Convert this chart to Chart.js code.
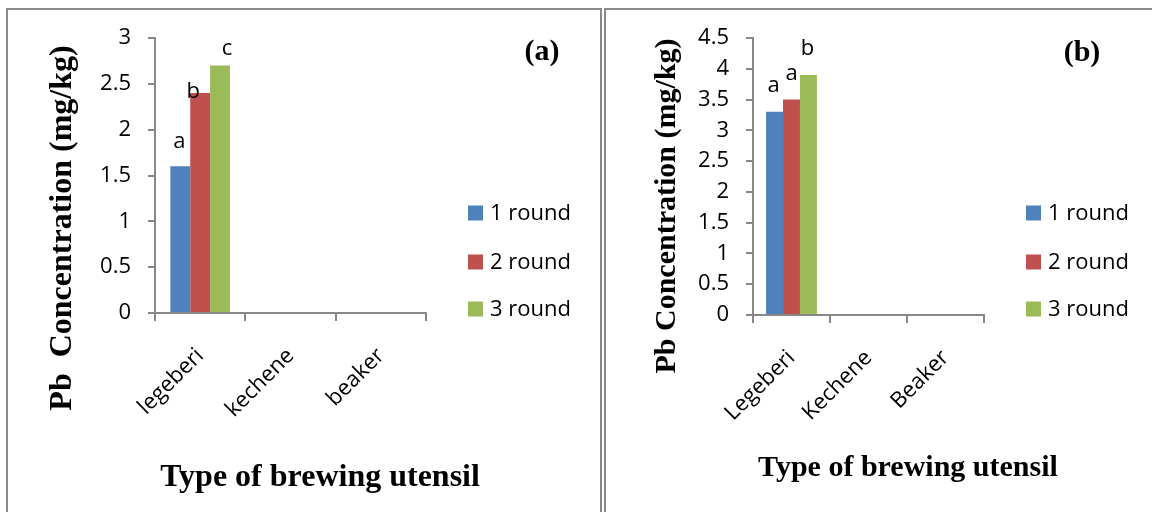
<!DOCTYPE html>
<html>
<head>
<meta charset="utf-8">
<script src="https://cdn.jsdelivr.net/npm/chart.js@4"></script>
<style>
  body { margin: 0; background: #fff; width: 1152px; height: 512px; overflow: hidden; position: relative; }
  .panel { position: absolute; box-sizing: border-box; border: 2px solid #8a8a8a; }
  canvas { position: absolute; top: 0; }
</style>
</head>
<body>
<div class="panel" style="left:6px; top:8px; width:596px; height:530px;"></div>
<div class="panel" style="left:604px; top:8px; width:580px; height:530px;"></div>
<canvas id="graficoA" width="600" height="512" style="left:0px"></canvas>
<canvas id="graficoB" width="549" height="512" style="left:603px"></canvas>
<script>
// dados
const rodadas = ["1 round", "2 round", "3 round"];
const cores = ["#4F81BD", "#C0504D", "#9BBB59"];

// painel (a)
const utensiliosA = ["legeberi", "kechene", "beaker"];
const rodada1A = [1.6, null, null];
const rodada2A = [2.4, null, null];
const rodada3A = [2.7, null, null];
const letrasA = [["a", "", ""], ["b", "", ""], ["c", "", ""]];
const ticksA = { min: 0, max: 3, step: 0.5 };

// painel (b)
const utensiliosB = ["Legeberi", "Kechene", "Beaker"];
const rodada1B = [3.3, null, null];
const rodada2B = [3.5, null, null];
const rodada3B = [3.9, null, null];
const letrasB = [["a", "", ""], ["a", "", ""], ["b", "", ""]];
const ticksB = { min: 0, max: 4.5, step: 0.5 };

Chart.defaults.font.family = "'Open Sans', sans-serif";
Chart.defaults.font.size = 22;
Chart.defaults.color = "#000";

// plugin que desenha letras, legenda e titulos
const enfeites = {
  id: "enfeites",
  afterDraw(chart, args, opts) {
    const ctx = chart.ctx;
    ctx.save();
    ctx.fillStyle = "#000";
    // letras em cima das barras (dx/gap = onde a letra fica)
    ctx.font = "22px 'Open Sans', sans-serif";
    ctx.textAlign = "center";
    ctx.textBaseline = "alphabetic";
    chart.data.datasets.forEach((ds, i) => {
      chart.getDatasetMeta(i).data.forEach((bar, j) => {
        const txt = opts.letras[i][j];
        if (txt) ctx.fillText(txt, bar.x + opts.dx[i], bar.y - opts.gap[i]);
      });
    });
    // legenda
    ctx.textAlign = "left";
    ctx.textBaseline = "middle";
    chart.data.datasets.forEach((ds, i) => {
      const y = opts.legenda.y[i];
      ctx.fillStyle = ds.backgroundColor;
      ctx.fillRect(opts.legenda.x, y - 7.5, 15, 15);
      ctx.fillStyle = "#000";
      ctx.fillText(ds.label, opts.legenda.x + 22, y + 1);
    });
    // titulo do eixo y
    ctx.textAlign = "center";
    ctx.textBaseline = "middle";
    ctx.font = "bold " + opts.tituloY.tam + "px 'Liberation Serif', serif";
    ctx.save();
    ctx.translate(opts.tituloY.x, opts.tituloY.y);
    ctx.rotate(-Math.PI / 2);
    ctx.fillText(opts.tituloY.texto, 0, 0);
    ctx.restore();
    // titulo do eixo x
    ctx.font = "bold " + opts.tituloX.tam + "px 'Liberation Serif', serif";
    ctx.fillText(opts.tituloX.texto, opts.tituloX.x, opts.tituloX.y);
    // etiqueta do painel
    ctx.font = "bold 30px 'Liberation Serif', serif";
    ctx.fillText(opts.etiqueta.texto, opts.etiqueta.x, opts.etiqueta.y);
    ctx.restore();
  }
};

function montaGrafico(canvas, labels, series, ticks, larguraY, alturaX, padDir, enf) {
  return new Chart(canvas, {
    type: "bar",
    data: {
      labels: labels,
      datasets: series.map((dados, i) => ({
        label: rodadas[i],
        data: dados,
        backgroundColor: cores[i],
        borderWidth: 0,
        categoryPercentage: 0.66,
        barPercentage: 1,
      })),
    },
    options: {
      responsive: false,
      animation: false,
      layout: { padding: { top: 38, right: padDir, left: 0, bottom: 0 } },
      plugins: { legend: { display: false }, tooltip: { enabled: false }, enfeites: enf },
      scales: {
        x: {
          grid: { drawOnChartArea: false, color: "#888", lineWidth: 2, tickLength: 8 },
          border: { color: "#888", width: 2 },
          ticks: { minRotation: 45, maxRotation: 45, padding: 22 },
          afterFit: (s) => { s.height = alturaX; },
        },
        y: {
          min: ticks.min,
          max: ticks.max,
          grid: { drawOnChartArea: false, color: "#888", lineWidth: 2, tickLength: 7 },
          border: { color: "#888", width: 2 },
          ticks: { stepSize: ticks.step, padding: 17, callback: (v) => String(v) },
          afterFit: (s) => { s.width = larguraY; },
        },
      },
    },
    plugins: [enfeites],
  });
}

const graficoA = montaGrafico(
  document.getElementById("graficoA"), utensiliosA, [rodada1A, rodada2A, rodada3A], ticksA,
  155, 199, 174,
  {
    letras: letrasA, dx: [-1, -7, 7], gap: [18, -5, 11],
    legenda: { x: 468, y: [213, 262, 309] },
    tituloY: { texto: "Pb  Concentration (mg/kg)", tam: 32, x: 63, y: 228 },
    tituloX: { texto: "Type of brewing utensil", tam: 32, x: 320, y: 478 },
    etiqueta: { texto: "(a)", x: 542, y: 52 },
  }
);

const graficoB = montaGrafico(
  document.getElementById("graficoB"), utensiliosB, [rodada1B, rodada2B, rodada3B], ticksB,
  150, 197, 168,
  {
    letras: letrasB, dx: [-1, 0, -1], gap: [20, 20, 20],
    legenda: { x: 423, y: [213, 262, 309] },
    tituloY: { texto: "Pb Concentration (mg/kg)", tam: 30, x: 64, y: 206 },
    tituloX: { texto: "Type of brewing utensil", tam: 30, x: 305, y: 468 },
    etiqueta: { texto: "(b)", x: 479, y: 53 },
  }
);
</script>
</body>
</html>
